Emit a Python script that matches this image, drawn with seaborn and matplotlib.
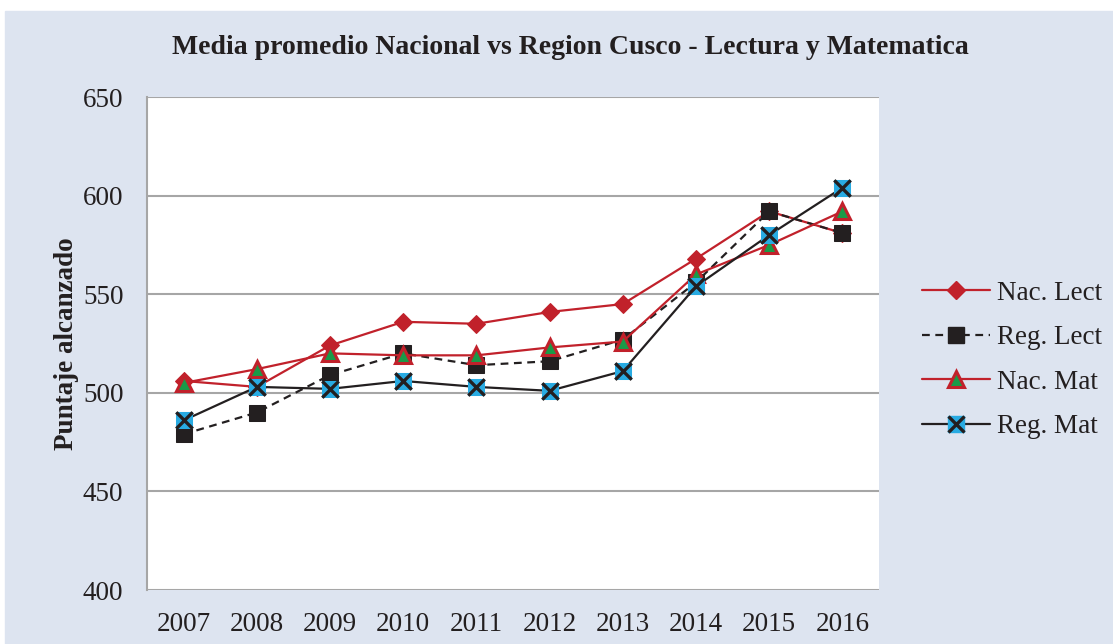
import matplotlib
matplotlib.use("Agg")
import matplotlib.pyplot as plt
from matplotlib.lines import Line2D
from matplotlib.legend_handler import HandlerTuple
from matplotlib.patches import Rectangle
import seaborn as sns
import pandas as pd

years = [2007, 2008, 2009, 2010, 2011, 2012, 2013, 2014, 2015, 2016]
nac_lect = [506, 503, 524, 536, 535, 541, 545, 568, 592, 581]
reg_lect = [479, 490, 509, 520, 514, 516, 527, 556, 592, 581]
nac_mat = [505, 512, 520, 519, 519, 523, 526, 560, 575, 592]
reg_mat = [486, 503, 502, 506, 503, 501, 511, 554, 580, 604]

title = "Media promedio Nacional vs Region Cusco - Lectura y Matematica"
ylabel = "Puntaje alcanzado"
labels = ["Nac. Lect", "Reg. Lect", "Nac. Mat", "Reg. Mat"]

RED = "#c1212b"
BLACK = "#231f20"
GREEN = "#1a9a48"
BLUE = "#29abe2"
BG = "#dde4f0"
GRID = "#a6a6a6"

sns.set_theme(style="white")
plt.rcParams["font.family"] = ["Liberation Serif", "DejaVu Serif"]

fig = plt.figure(figsize=(11.13, 6.44), dpi=100, facecolor="white")
fig.patches.append(Rectangle((5 / 1113, 0), 1 - 5 / 1113, 1 - 11 / 644,
                             transform=fig.transFigure, color=BG, zorder=-10))
ax = fig.add_axes([147 / 1113, (644 - 590) / 644, 732 / 1113, 493 / 644])
ax.set_facecolor("white")

df = pd.DataFrame({"year": years, "nl": nac_lect, "rl": reg_lect,
                   "nm": nac_mat, "rm": reg_mat})

lw = 1.6
DASH = (0, (3.5, 2.5))
sns.lineplot(data=df, x="year", y="nl", ax=ax, color=RED, lw=lw, marker="D",
             markersize=9, markerfacecolor=RED, markeredgecolor=RED, zorder=3)
sns.lineplot(data=df, x="year", y="rl", ax=ax, color=BLACK, lw=lw, marker="s",
             markersize=11, markerfacecolor=BLACK, markeredgecolor=BLACK,
             zorder=4)
ax.lines[-1].set_linestyle(DASH)
sns.lineplot(data=df, x="year", y="nm", ax=ax, color=RED, lw=lw, marker="^",
             markersize=11, markerfacecolor=GREEN, markeredgecolor=RED,
             markeredgewidth=2.2, zorder=5)
sns.lineplot(data=df, x="year", y="rm", ax=ax, color=BLACK, lw=lw, marker="s",
             markersize=12, markerfacecolor=BLUE, markeredgecolor=BLUE, zorder=6)
sns.scatterplot(data=df, x="year", y="rm", ax=ax, marker="x", s=140,
                color=BLACK, linewidths=2.4, zorder=7)

ax.set_xlim(2006.5, 2016.5)
ax.set_ylim(400, 650)
ax.set_xticks(years)
ax.set_xticklabels([str(y) for y in years])
ax.set_yticks([400, 450, 500, 550, 600, 650])
ax.tick_params(axis="both", labelsize=19.5, colors="#231f20", length=0)
ax.tick_params(axis="y", pad=17)
ax.tick_params(axis="x", pad=16)
ax.yaxis.grid(True, color=GRID, lw=1.5)
ax.set_axisbelow(True)
for s in ["top", "right", "bottom"]:
    ax.spines[s].set_visible(False)
ax.spines["left"].set_color(GRID)
ax.spines["left"].set_linewidth(1.5)
ax.set_xlabel("")
ax.set_ylabel(ylabel, fontsize=19.5, fontweight="bold", color="#231f20", labelpad=3)

fig.text(570 / 1113, 1 - 48 / 644, title, ha="center", va="center",
         fontsize=20, fontweight="bold", color="#231f20")

h1 = Line2D([], [], color=RED, lw=lw, marker="D", markersize=9,
            markerfacecolor=RED, markeredgecolor=RED)
h2 = Line2D([], [], color=BLACK, lw=lw, ls=DASH, marker="s",
            markersize=11, markerfacecolor=BLACK, markeredgecolor=BLACK)
h3 = Line2D([], [], color=RED, lw=lw, marker="^", markersize=11,
            markerfacecolor=GREEN, markeredgecolor=RED, markeredgewidth=2.2)
h4a = Line2D([], [], color=BLACK, lw=lw, marker="s", markersize=12,
             markerfacecolor=BLUE, markeredgecolor=BLUE)
h4b = Line2D([], [], color=BLACK, lw=0, marker="x", markersize=11,
             markeredgewidth=2.4)
fig.legend([h1, h2, h3, (h4a, h4b)], labels,
           handler_map={tuple: HandlerTuple(ndivide=1, pad=0)},
           loc="center left", bbox_to_anchor=(898 / 1113, 1 - 360 / 644),
           frameon=False, fontsize=19.5, handlelength=2.5, handletextpad=0.26,
           labelspacing=0.72, labelcolor="#231f20")

fig.savefig("out.png", dpi=100, facecolor=fig.get_facecolor())
